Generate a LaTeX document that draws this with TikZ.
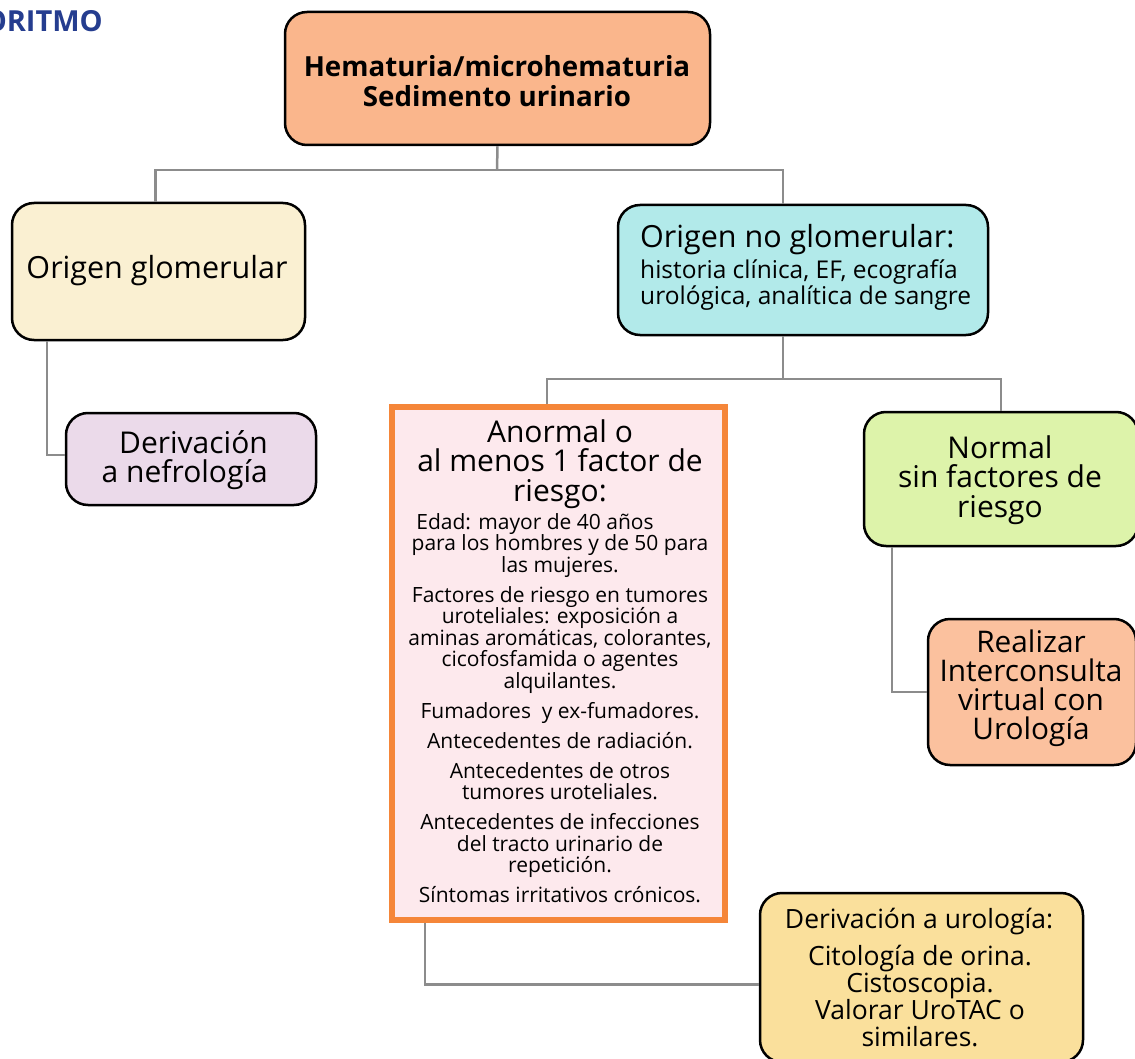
\documentclass[tikz,border=0pt]{standalone}
\usepackage{fontspec}
\setmainfont{Open Sans}
\usetikzlibrary{calc}
\definecolor{cTop}{RGB}{250,182,140}
\definecolor{cGlom}{RGB}{250,240,210}
\definecolor{cNef}{RGB}{235,218,234}
\definecolor{cNoGlom}{RGB}{178,234,234}
\definecolor{cAnFill}{RGB}{253,233,237}
\definecolor{cAnLine}{RGB}{245,134,57}
\definecolor{cNormal}{RGB}{221,243,170}
\definecolor{cReal}{RGB}{251,193,158}
\definecolor{cUrol}{RGB}{250,224,156}
\definecolor{cConn}{RGB}{140,140,140}
\definecolor{cBlue}{RGB}{37,61,143}
\tikzset{
  rbox/.style={draw=black, line width=2.5pt, rounded corners=22pt, inner sep=0pt},
  conn/.style={draw=cConn, line width=2.5pt},
  txt/.style={inner sep=0pt, align=center},
}
\begin{document}
\begin{tikzpicture}[x=1pt,y=-1pt]
\useasboundingbox (0,0) rectangle (1135,1059);
\begin{scope}
\clip (0,0) rectangle (1135,1059);
% boxes
\node[rbox, fill=cTop, minimum width=425pt, minimum height=133pt] (top) at (497.5,78.5) {};
\node[rbox, fill=cGlom, minimum width=293pt, minimum height=137pt] (glom) at (158.5,271.5) {};
\node[rbox, fill=cNef, minimum width=250pt, minimum height=92pt] (nefro) at (191,459) {};
\node[rbox, fill=cNoGlom, minimum width=370pt, minimum height=130pt] (noglom) at (803,270) {};
\node[draw=cAnLine, line width=6pt, fill=cAnFill, minimum width=333pt, minimum height=513pt, inner sep=0pt] (anormal) at (558.5,663.5) {};
\node[rbox, fill=cNormal, minimum width=274pt, minimum height=134pt] (normal) at (1001,479) {};
\node[rbox, fill=cReal, minimum width=208pt, minimum height=146pt] (realizar) at (1032,692) {};
\node[rbox, fill=cUrol, minimum width=323pt, minimum height=169pt] (urol) at (921.5,977.5) {};
% connectors
\coordinate (j1) at (497,170);
\coordinate (j2) at (783,379);
\draw[conn] (top.south) -- (j1);
\draw[conn] ([xshift=-3pt]glom.north) |- (j1) -| ([xshift=-20pt]noglom.north);
\draw[conn] ([xshift=36pt]glom.south west) |- ([yshift=4pt]nefro.west);
\draw[conn] ([xshift=-20pt]noglom.south) -- (j2);
\draw[conn] ([xshift=-11.5pt]anormal.north) |- (j2) -| (normal.north);
\draw[conn] ([xshift=29pt]normal.south west) |- (realizar.west);
\draw[conn] ([xshift=36pt]anormal.south west) |- ([yshift=-7pt]urol.west);
% texts
\node[txt, anchor=east, text=cBlue, font=\fontsize{29}{32}\selectfont\bfseries] (title) at (103,21) {ORITMO};
\node[txt, font=\fontsize{27.7}{30}\selectfont\bfseries] (toptxt) at (497,81) {Hematuria/microhematuria\\Sedimento urinario};
\node[txt, font=\fontsize{30.5}{30}\selectfont] (glomtxt) at (157,271) {Origen glomerular};
\node[txt, align=right, anchor=east, font=\fontsize{30}{29}\selectfont] (nefrotxt) at (268,460) {Derivación\\a nefrología};
\node[txt, align=left, anchor=west, font=\fontsize{30.5}{30}\selectfont] (noglomtxt) at (640,240) {Origen no glomerular:};
\node[txt, align=left, anchor=west, font=\fontsize{24.5}{24}\selectfont] (noglomtxt2) at (640,285) {historia clínica, EF, ecografía\\urológica, analítica de sangre};
\node[txt, font=\fontsize{30}{29.5}\selectfont] (antitle) at (560,464) {Anormal o\\al menos 1 factor de\\riesgo:};
\node[txt, anchor=north, font=\fontsize{21}{21.5}\selectfont] (anbody) at (560,513) {%
Edad: mayor de 40 años\hspace*{50pt}\\
para los hombres y de 50 para\\
las mujeres.\\[8.5pt]
Factores de riesgo en tumores\\
uroteliales: exposición a\\
aminas aromáticas, colorantes,\\
cicofosfamida o agentes\\
alquilantes.\\[8.5pt]
Fumadores\ \ y ex-fumadores.\\[8.5pt]
Antecedentes de radiación.\\[8.5pt]
Antecedentes de otros\\
tumores uroteliales.\\[8.5pt]
Antecedentes de infecciones\\
del tracto urinario de\\
repetición.\\[8.5pt]
Síntomas irritativos crónicos.};
\node[txt, font=\fontsize{30}{29.5}\selectfont] (normaltxt) at (1000,480) {Normal\\sin factores de\\riesgo};
\node[txt, font=\fontsize{29.8}{29}\selectfont] (realtxt) at (1031,688) {Realizar\\Interconsulta\\virtual con\\Urología};
\node[txt, font=\fontsize{26.5}{26}\selectfont] (uroltxt1) at (919,922) {Derivación a urología:};
\node[txt, font=\fontsize{26.5}{26.3}\selectfont] (uroltxt2) at (920,996) {Citología de orina.\\Cistoscopia.\\Valorar UroTAC o\\similares.};
\end{scope}
\end{tikzpicture}
\end{document}
